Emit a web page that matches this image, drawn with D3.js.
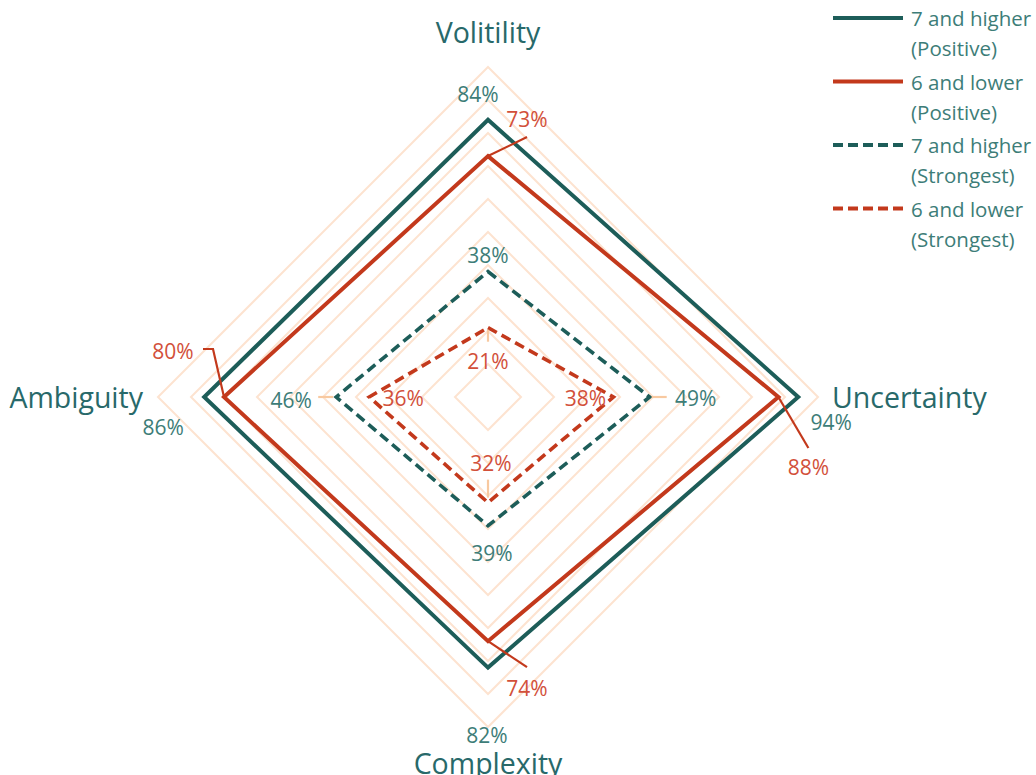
<!DOCTYPE html>
<html>
<head>
<meta charset="utf-8">
<script src="https://cdn.jsdelivr.net/npm/d3@7"></script>
<style>
  html, body { margin: 0; padding: 0; background: #ffffff; }
  svg { display: block; font-family: "Open Sans", "Noto Sans", sans-serif; }
</style>
</head>
<body>
<svg id="chart" width="1036" height="775"></svg>
<script>
// ---- data ----
const axes = ["Volitility", "Uncertainty", "Complexity", "Ambiguity"];
const seriesNames = [
  ["7 and higher", "(Positive)"],
  ["6 and lower", "(Positive)"],
  ["7 and higher", "(Strongest)"],
  ["6 and lower", "(Strongest)"]
];
const highPositive   = [0.84, 0.94, 0.82, 0.86];
const lowPositive    = [0.73, 0.88, 0.74, 0.80];
const highStrongest  = [0.38, 0.49, 0.39, 0.46];
const lowStrongest   = [0.21, 0.38, 0.32, 0.36];
const gridLevels     = [0.1, 0.2, 0.3, 0.4, 0.5, 0.6, 0.7, 0.8, 0.9, 1.0];

// ---- styling ----
const TEAL = "#1d5d59", RED = "#c3391c";
const TEAL_TEXT = "#3d7d78", RED_TEXT = "#d2503a", AXIS_TEXT = "#28696a";
const GRID = "#fde3d0", LEADER_SOFT = "#f8c9a0";

const series = [
  { name: seriesNames[0], values: highPositive,  color: TEAL, text: TEAL_TEXT, dash: null },
  { name: seriesNames[1], values: lowPositive,   color: RED,  text: RED_TEXT,  dash: null },
  { name: seriesNames[2], values: highStrongest, color: TEAL, text: TEAL_TEXT, dash: "10,5.5" },
  { name: seriesNames[3], values: lowStrongest,  color: RED,  text: RED_TEXT,  dash: "10,5.5" }
];

// label placement per series/axis: offset of label centre from the vertex,
// plus optional leader polyline (relative to the vertex)
const labelLayout = [
  [ {dx:-10, dy:-26}, {dx:33, dy:25}, {dx:-1, dy:67}, {dx:-41, dy:30} ],
  [ {dx:39, dy:-37, leader:[[0,0],[39,-19]]},
    {dx:30, dy:70,  leader:[[0,0],[30,51]]},
    {dx:39, dy:47,  leader:[[0,0],[39,26]]},
    {dx:-51, dy:-46, leader:[[0,0],[-11,-48],[-21,-48]]} ],
  [ {dx:0, dy:-17}, {dx:46, dy:1, soft:[[2,0],[17,0]]},
    {dx:4, dy:27}, {dx:-45, dy:3, soft:[[-3,0],[-18,0]]} ],
  [ {dx:0, dy:33, soft:[[0,2],[0,14]]}, {dx:-28, dy:1},
    {dx:3, dy:-40, soft:[[0,-5],[0,-23]]}, {dx:34, dy:1} ]
];

const svg = d3.select("#chart");
const cx = 488, cy = 397;
const r = d3.scaleLinear().domain([0, 1]).range([0, 330]);
const angle = d3.scalePoint().domain(axes).range([-Math.PI / 2, Math.PI]);
// angles: Volitility up, Uncertainty right, Complexity down, Ambiguity left
const ang = a => angle(a);

const pt = (axis, v) => [cx + r(v) * Math.cos(ang(axis)), cy + r(v) * Math.sin(ang(axis))];

const g = svg.append("g");

// grid diamonds
const closedLine = d3.line().curve(d3.curveLinearClosed);
g.selectAll("path.grid").data(gridLevels).join("path")
  .attr("class", "grid")
  .attr("d", lv => closedLine(axes.map(a => pt(a, lv))))
  .attr("fill", "none")
  .attr("stroke", GRID)
  .attr("stroke-width", 2);

// series polygons (strongest first, so positive lines sit on top)
g.selectAll("path.series").data(series.slice().reverse()).join("path")
  .attr("class", "series")
  .attr("d", s => closedLine(axes.map((a, i) => pt(a, s.values[i]))))
  .attr("fill", "none")
  .attr("stroke", s => s.color)
  .attr("stroke-width", s => s.dash ? 3.6 : 4)
  .attr("stroke-dasharray", s => s.dash)
  .attr("stroke-linejoin", "miter");

// data labels
series.forEach((s, si) => {
  axes.forEach((a, ai) => {
    const [vx, vy] = pt(a, s.values[ai]);
    const L = labelLayout[si][ai];
    if (L.leader) {
      g.append("path")
        .attr("d", d3.line()(L.leader.map(([x, y]) => [vx + x, vy + y])))
        .attr("fill", "none").attr("stroke", s.color).attr("stroke-width", 2.2);
    }
    if (L.soft) {
      g.append("path")
        .attr("d", d3.line()(L.soft.map(([x, y]) => [vx + x, vy + y])))
        .attr("fill", "none").attr("stroke", LEADER_SOFT).attr("stroke-width", 2.2);
    }
    g.append("text")
      .attr("x", vx + L.dx).attr("y", vy + L.dy)
      .attr("text-anchor", "middle")
      .attr("dominant-baseline", "central")
      .attr("font-size", 21)
      .attr("fill", s.text)
      .text(d3.format(".0%")(s.values[ai]));
  });
});

// axis titles
const titles = [
  { t: axes[0], x: cx, y: 32, anchor: "middle" },
  { t: axes[1], x: 832, y: cy, anchor: "start" },
  { t: axes[2], x: cx, y: 763, anchor: "middle" },
  { t: axes[3], x: 143, y: cy, anchor: "end" }
];
g.selectAll("text.axis").data(titles).join("text")
  .attr("class", "axis")
  .attr("x", d => d.x).attr("y", d => d.y)
  .attr("text-anchor", d => d.anchor)
  .attr("dominant-baseline", "central")
  .attr("font-size", 28.5)
  .attr("fill", AXIS_TEXT)
  .text(d => d.t);

// legend
const legend = svg.append("g").attr("transform", "translate(833,18)");
const item = legend.selectAll("g").data(series).join("g")
  .attr("transform", (d, i) => `translate(0,${i * 63.5})`);
item.append("line")
  .attr("x1", 0).attr("x2", 70).attr("y1", 0).attr("y2", 0)
  .attr("stroke", d => d.color)
  .attr("stroke-width", 4)
  .attr("stroke-dasharray", d => d.dash ? "10,5" : null);
item.each(function(d) {
  d3.select(this).selectAll("text").data(d.name).join("text")
    .attr("x", 78).attr("y", (t, j) => j * 30)
    .attr("dominant-baseline", "central")
    .attr("font-size", 20.5)
    .attr("fill", TEAL_TEXT)
    .text(t => t);
});
</script>
</body>
</html>
